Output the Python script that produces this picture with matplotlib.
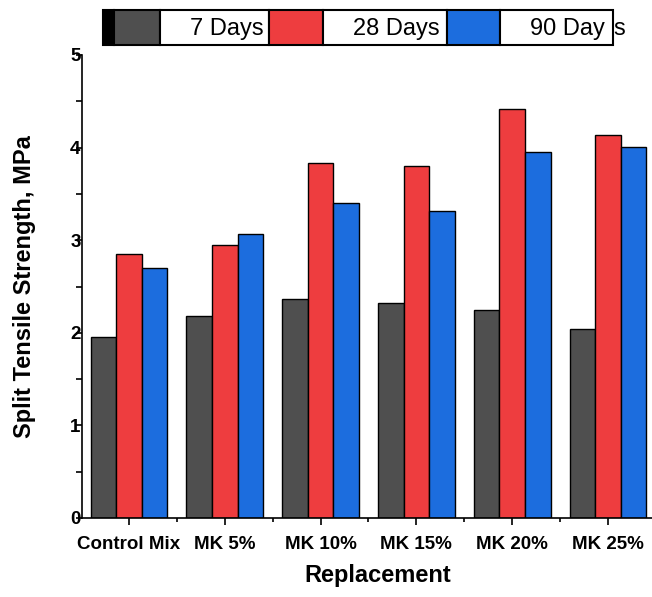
#!/usr/bin/env python

import numpy as np
import matplotlib
matplotlib.use("Agg")
import matplotlib.pyplot as plt
from matplotlib.patches import Rectangle
from matplotlib.ticker import MultipleLocator

plt.rcParams['font.family'] = ['Liberation Sans', 'DejaVu Sans']

# ------------------------------------------
# data
# ------------------------------------------
mixes = ["Control Mix", "MK 5%", "MK 10%", "MK 15%", "MK 20%", "MK 25%"]
days7 = [1.95, 2.18, 2.37, 2.32, 2.25, 2.04]
days28 = [2.85, 2.95, 3.83, 3.80, 4.42, 4.14]
days90 = [2.70, 3.07, 3.40, 3.32, 3.95, 4.01]
series_labels = ["7 Days", "28 Days", "90 Days"]
colors = ["#4f4f4f", "#ee3d3f", "#1c6dde"]

W, H = 652, 597
fig = plt.figure(figsize=(W / 100, H / 100), dpi=100)
ax = fig.add_axes([82 / W, 1 - 518 / H, 1 - 82 / W, (518 - 55) / H])

x = np.arange(len(mixes))
bw = 0.267
for i, vals in enumerate([days7, days28, days90]):
    ax.bar(x + (i - 1) * bw, vals, bw, color=colors[i], edgecolor="black",
           linewidth=1.0, zorder=2)

ax.set_xlim(-0.49, -0.49 + 570 / 95.8)
ax.set_ylim(0, 5)
ax.spines['top'].set_visible(False)
ax.spines['right'].set_visible(False)
ax.spines['left'].set_linewidth(1.2)
ax.spines['bottom'].set_linewidth(1.2)

ax.set_xticks(x)
ax.set_xticklabels(mixes, fontsize=13.5, fontweight="bold")
ax.xaxis.set_minor_locator(MultipleLocator(1, offset=0.5))
ax.set_yticks(range(6))
ax.set_yticklabels([str(v) for v in range(6)], fontsize=13.5, fontweight="bold")
ax.yaxis.set_minor_locator(MultipleLocator(0.5))
ax.tick_params(axis='x', which='major', length=5, width=1.2, pad=8)
ax.tick_params(axis='x', which='minor', length=3, width=1.2)
ax.tick_params(axis='y', which='major', length=4, width=1.2, pad=-3)
ax.tick_params(axis='y', which='minor', length=4.5, width=1.2)

ax.set_xlabel("Replacement", fontsize=17, fontweight="bold")
ax.xaxis.set_label_coords((378 - 82) / 570, -0.10)
ax.set_ylabel("Split Tensile Strength, MPa", fontsize=17, fontweight="bold")
ax.yaxis.set_label_coords(-(82 - 36) / 570, 0.5)

# ------------------------------------------
# legend strip drawn by hand (boxes in pixels)
# ------------------------------------------
def px_rect(x0, x1, fc, lw=1.5):
    y0, y1 = 9.7, 45
    r = Rectangle((x0 / W, 1 - y1 / H), (x1 - x0) / W, (y1 - y0) / H,
                  transform=fig.transFigure, facecolor=fc, edgecolor="black",
                  linewidth=lw)
    fig.patches.append(r)

px_rect(102.5, 114, "black")
swatches = [(114, 160, 269), (269, 322.6, 446.5), (446.5, 499.5, 612.7)]
text_ends = [264, 440, 605]
for i, (a, b, c) in enumerate(swatches):
    px_rect(a, b, colors[i])
    px_rect(b, c, "white")
    lab = series_labels[i]
    if i == 2:
        lab = lab[:-1]
    fig.text(text_ends[i] / W, 1 - 35 / H, lab, fontsize=17, ha="right",
             va="baseline")
fig.text(613.5 / W, 1 - 35 / H, "s", fontsize=17, ha="left", va="baseline")

fig.savefig("out.png", dpi=100)
